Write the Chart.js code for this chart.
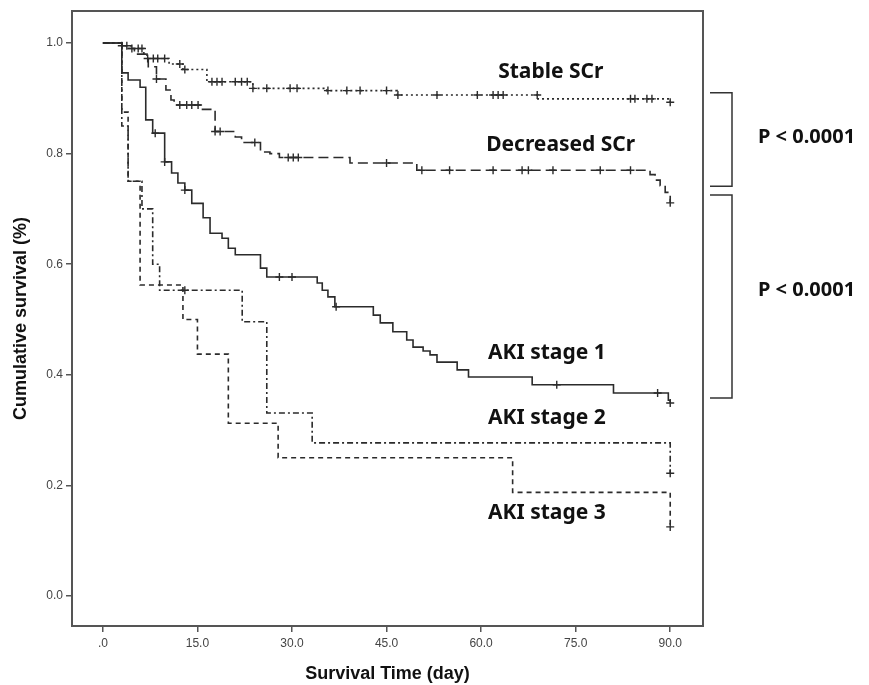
<!DOCTYPE html>
<html><head><meta charset="utf-8">
<script src="https://cdn.jsdelivr.net/npm/chart.js@4"></script>
<style>html,body{margin:0;padding:0;background:#fff}</style>
</head><body>
<canvas id="c" width="869" height="685"></canvas>
<script>
// ---- data ----
const xTicks = [0, 15, 30, 45, 60, 75, 90];
const yTicks = [0, 0.2, 0.4, 0.6, 0.8, 1.0];

const stableTime = [0, 3, 4.5, 6.5, 7, 10.5, 12.7, 16.5, 23.8, 35.5, 46.7, 69, 90];
const stableSurv = [1, 0.995, 0.99, 0.98, 0.972, 0.962, 0.952, 0.93, 0.918, 0.914, 0.906, 0.899, 0.893];
const stableCensor = [3, 3.8, 4.6, 5.6, 6.2, 7.1, 8, 8.7, 9.8, 12.2, 13, 17.3, 18.1, 18.9, 21, 22, 22.9, 23.8, 26, 29.7, 30.8, 35.7, 38.7, 40.8, 45, 46.8, 53, 59.4, 61.9, 62.7, 63.5, 68.9, 83.7, 84.4, 86.3, 87.1, 90];

const decTime = [0, 3, 5, 7.2, 8.5, 10, 10.8, 11.3, 15.8, 17.8, 21, 22, 25, 26.5, 28, 39.2, 49.8, 86.8, 87.6, 88.4, 89.2, 90];
const decSurv = [1, 0.99, 0.98, 0.957, 0.935, 0.915, 0.897, 0.888, 0.88, 0.84, 0.83, 0.82, 0.803, 0.8, 0.793, 0.783, 0.77, 0.762, 0.752, 0.742, 0.73, 0.711];
const decCensor = [8.5, 12.2, 13.3, 14.1, 15.1, 17.8, 18.6, 24.1, 29.4, 30.2, 31, 45, 50.6, 55, 61.9, 66.5, 67.5, 71.4, 78.9, 83.7, 90];

const aki1Time = [0, 3, 4, 5.9, 6.8, 7.9, 9.8, 10.9, 11.9, 13, 14.1, 15.9, 17, 18.9, 19.9, 21, 25, 26, 34, 34.8, 35.7, 36.8, 42.9, 44, 46, 48.2, 49.2, 50.8, 51.9, 53, 56.2, 58, 68.1, 81, 89.7, 90];
const aki1Surv = [1, 0.946, 0.933, 0.92, 0.861, 0.837, 0.785, 0.765, 0.747, 0.734, 0.71, 0.684, 0.656, 0.647, 0.629, 0.617, 0.593, 0.577, 0.566, 0.553, 0.541, 0.523, 0.508, 0.494, 0.478, 0.463, 0.45, 0.443, 0.436, 0.423, 0.409, 0.396, 0.382, 0.367, 0.354, 0.349];
const aki1Censor = [8.3, 9.8, 13, 28, 30, 37, 72, 88, 90];

const aki2Time = [0, 3, 4, 6.2, 7.9, 9, 22.1, 26, 33.2, 90];
const aki2Surv = [1, 0.85, 0.75, 0.70, 0.60, 0.553, 0.496, 0.331, 0.277, 0.222];
const aki2Censor = [13, 90];

const aki3Time = [0, 3, 4, 5.9, 12.7, 15, 19.9, 27.8, 65, 90];
const aki3Surv = [1, 0.875, 0.75, 0.5625, 0.5, 0.4375, 0.3125, 0.25, 0.1875, 0.125];
const aki3Censor = [90];

// ---- helpers ----
function pts(t, s) { return t.map((v, i) => ({x: v, y: s[i]})); }
function survAt(t, s, time) { let v = s[0]; for (let i = 0; i < t.length; i++) { if (t[i] <= time + 1e-9) v = s[i]; } return v; }
function censorPts(t, s, c) { return c.map(ct => ({x: ct, y: survAt(t, s, ct)})); }

const lineCol = '#2b2b2b';
function curve(label, t, s, dash) {
  return {type: 'line', label, data: pts(t, s), stepped: 'before', borderColor: lineCol, borderWidth: 1.6,
    borderDash: dash, pointRadius: 0, fill: false, tension: 0};
}
function censor(label, t, s, c) {
  return {type: 'scatter', label, data: censorPts(t, s, c), showLine: false, pointStyle: 'cross',
    pointRadius: 4, borderColor: lineCol, backgroundColor: lineCol, borderWidth: 1.4};
}

const overlay = {
  id: 'overlay',
  beforeDatasetsDraw(chart) {
    const {ctx, chartArea: a} = chart;
    ctx.save();
    ctx.strokeStyle = '#555'; ctx.lineWidth = 2;
    ctx.strokeRect(a.left, a.top, a.right - a.left, a.bottom - a.top);
    ctx.restore();
  },
  afterDraw(chart) {
    const {ctx, chartArea: a, scales: {x, y}} = chart;
    ctx.save();
    ctx.fillStyle = '#111';
    ctx.font = 'bold 21px "Noto Sans", "Open Sans", sans-serif';
    ctx.textBaseline = 'middle'; ctx.textAlign = 'left';
    ctx.fillText('Stable SCr', x.getPixelForValue(62.7), y.getPixelForValue(0.948));
    ctx.fillText('Decreased SCr', x.getPixelForValue(60.8), y.getPixelForValue(0.816));
    ctx.fillText('AKI stage 1', x.getPixelForValue(61.1), y.getPixelForValue(0.439));
    ctx.fillText('AKI stage 2', x.getPixelForValue(61.1), y.getPixelForValue(0.322));
    ctx.fillText('AKI stage 3', x.getPixelForValue(61.1), y.getPixelForValue(0.150));
    // brackets
    ctx.strokeStyle = '#333'; ctx.lineWidth = 1.5;
    const bx0 = a.right + 7, bx1 = a.right + 29;
    function bracket(v0, v1) {
      const y0 = y.getPixelForValue(v0), y1 = y.getPixelForValue(v1);
      ctx.beginPath(); ctx.moveTo(bx0, y0); ctx.lineTo(bx1, y0); ctx.lineTo(bx1, y1); ctx.lineTo(bx0, y1); ctx.stroke();
    }
    bracket(0.91, 0.741);
    bracket(0.725, 0.358);
    ctx.font = 'bold 20px "Noto Sans", "Open Sans", sans-serif';
    ctx.fillText('P < 0.0001', a.right + 55, y.getPixelForValue(0.83));
    ctx.fillText('P < 0.0001', a.right + 55, y.getPixelForValue(0.553));
    ctx.restore();
  }
};

new Chart(document.getElementById('c'), {
  data: {
    datasets: [
      curve('Stable SCr', stableTime, stableSurv, [2, 3]),
      curve('Decreased SCr', decTime, decSurv, [10, 5]),
      curve('AKI stage 1', aki1Time, aki1Surv, []),
      curve('AKI stage 2', aki2Time, aki2Surv, [6, 3, 2, 3]),
      curve('AKI stage 3', aki3Time, aki3Surv, [5, 4]),
      censor('Stable SCr censored', stableTime, stableSurv, stableCensor),
      censor('Decreased SCr censored', decTime, decSurv, decCensor),
      censor('AKI stage 1 censored', aki1Time, aki1Surv, aki1Censor),
      censor('AKI stage 2 censored', aki2Time, aki2Surv, aki2Censor),
      censor('AKI stage 3 censored', aki3Time, aki3Surv, aki3Censor)
    ]
  },
  options: {
    responsive: false, animation: false, devicePixelRatio: 1,
    layout: {padding: {left: 0, top: 11, right: 166, bottom: 0}},
    plugins: {legend: {display: false}, tooltip: {enabled: false}},
    scales: {
      x: {
        type: 'linear', min: -4.9, max: 95.2,
        afterBuildTicks: s => { s.ticks = xTicks.map(v => ({value: v})); },
        afterFit: s => { s.height = 59; },
        border: {display: false},
        grid: {display: true, drawOnChartArea: false, drawTicks: true, tickLength: 6, color: '#555', lineWidth: 1.5},
        ticks: {padding: 4, color: '#444', font: {family: '"Liberation Sans", Arial, sans-serif', size: 12},
          callback: v => v === 0 ? '.0' : Number(v).toFixed(1), maxRotation: 0, autoSkip: false},
        title: {display: true, text: 'Survival Time (day)', color: '#111',
          font: {family: '"Liberation Sans", Arial, sans-serif', size: 18, weight: 'bold'}, padding: {top: 0, bottom: 0}}
      },
      y: {
        type: 'linear', min: -0.0542, max: 1.0579,
        afterBuildTicks: s => { s.ticks = yTicks.map(v => ({value: v})); },
        afterFit: s => { s.width = 72; },
        border: {display: false},
        grid: {display: true, drawOnChartArea: false, drawTicks: true, tickLength: 6, color: '#555', lineWidth: 1.5},
        ticks: {padding: 3, color: '#444', font: {family: '"Liberation Sans", Arial, sans-serif', size: 12},
          callback: v => Number(v).toFixed(1)},
        title: {display: true, text: 'Cumulative survival (%)', color: '#111',
          font: {family: '"Liberation Sans", Arial, sans-serif', size: 18, weight: 'bold'}, padding: {top: 10, bottom: 0}}
      }
    }
  },
  plugins: [overlay]
});
</script>
</body></html>
